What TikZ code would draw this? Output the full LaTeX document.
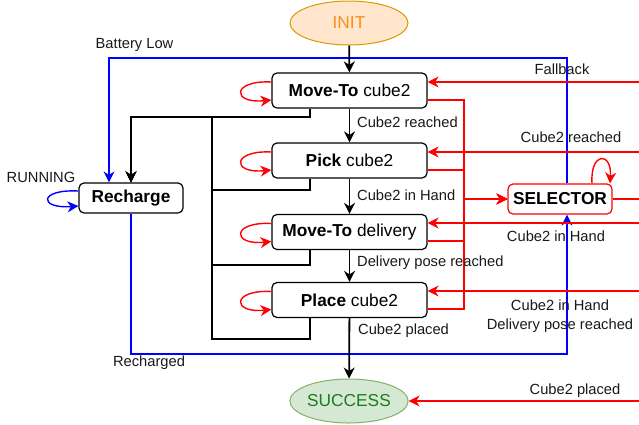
\documentclass[tikz,border=0pt]{standalone}
\usepackage{fontspec}
\setmainfont{Liberation Sans}
\usetikzlibrary{arrows.meta,shapes.geometric,calc}
\definecolor{initfill}{HTML}{FFE6CC}
\definecolor{initdraw}{HTML}{D79B00}
\definecolor{inittext}{HTML}{FF8C1A}
\definecolor{succfill}{HTML}{D5E8D4}
\definecolor{succdraw}{HTML}{82B366}
\definecolor{succtext}{HTML}{1E7B1E}
\definecolor{myred}{HTML}{FF0000}
\definecolor{myblue}{HTML}{0000FF}
\newcommand{\nodefont}{\fontsize{17.3}{20}\selectfont}
\newcommand{\labfont}{\fontsize{14.7}{19}\selectfont}
\begin{document}
\begin{tikzpicture}[x=1pt,y=-1pt,
  >={Stealth[length=11pt,width=11pt,inset=3.5pt]},
  task/.style={draw, rounded corners=5pt, line width=1.2pt, minimum width=155pt, minimum height=35pt, inner sep=0pt, font=\nodefont},
  smallbox/.style={draw, rounded corners=5pt, line width=1.2pt, minimum width=104pt, minimum height=30pt, inner sep=0pt, font=\nodefont\bfseries},
  term/.style={ellipse, draw, line width=1pt, minimum width=118pt, minimum height=44pt, inner sep=0pt, font=\nodefont},
  lab/.style={font=\labfont, inner sep=0pt, text=black!90},
  mainarrow/.style={draw=black, line width=1.8pt, ->},
  blk/.style={draw=black, line width=1.4pt, ->},
  rl/.style={draw=myred, line width=1.4pt, ->},
  bl/.style={draw=myblue, line width=1.4pt, ->},
]
\useasboundingbox (0,0) rectangle (639,424);
\clip (0,0) rectangle (639,424);
\fill[white] (0,0) rectangle (639,424);

% nodes
\node[term, fill=initfill, draw=initdraw, text=inittext] (init) at (349,23) {INIT};
\node[term, fill=succfill, draw=succdraw, text=succtext] (success) at (349,401) {SUCCESS};
\node[task] (mv1) at (349.5,90.5) {\textbf{Move-To} cube2};
\node[task] (pick) at (349.5,160.5) {\textbf{Pick} cube2};
\node[task] (mv2) at (349.5,232) {\textbf{Move-To} delivery};
\node[task] (place) at (349.5,300) {\textbf{Place} cube2};
\node[smallbox] (rech) at (131,198) {Recharge};
\node[smallbox, draw=myred] (sel) at (560,199) {SELECTOR};

\coordinate (rb) at (131,117);
\coordinate (jn) at (464,199);
\coordinate (far) at (655,199);

% black connectors to Recharge
\draw[blk] ([xshift=-39.5pt]mv2.south) |- (212,265) |- (rb) -- (rech.north);
\draw[blk] ([xshift=-39.5pt]place.south) |- (212,339) |- (rb) -- (rech.north);
\draw[blk] ([xshift=-39.5pt]pick.south) |- (212,190) |- (rb) -- (rech.north);
\draw[blk, line width=1.8pt] ([xshift=-39.5pt]mv1.south) |- (rb) -- (rech.north);

% blue connectors
\draw[bl] ([xshift=7pt]sel.north) |- (109,58) -- ([xshift=-22pt]rech.north);
\draw[bl] (rech.south) |- (567,354) -- ([xshift=7pt]sel.south);
\draw[bl] ([yshift=7pt]rech.west) .. controls +(-40,-2) and +(-40,3) .. ([yshift=-8pt]rech.west);

% main flow
\draw[mainarrow] (init) -- (mv1);
\draw[mainarrow] (mv1) -- (pick);
\draw[mainarrow] (pick) -- (mv2);
\draw[mainarrow] (mv2) -- (place);
\draw[mainarrow] (place) -- (success);

% red: boxes to selector
\draw[rl] ([yshift=-9.5pt]mv1.east) -| (jn) -- (sel.west);
\draw[rl] ([yshift=-9.5pt]pick.east) -| (jn) -- (sel.west);
\draw[rl] ([yshift=-9pt]mv2.east) -| (jn) -- (sel.west);
\draw[rl] ([yshift=-9pt]place.east) -| (jn) -- (sel.west);

% red: selector to boxes
\draw[rl] (sel.east) -- (far) |- ([yshift=8.5pt]mv1.east);
\draw[rl] (sel.east) -- (far) |- ([yshift=8.5pt]pick.east);
\draw[rl] (sel.east) -- (far) |- ([yshift=9pt]mv2.east);
\draw[rl] (sel.east) -- (far) |- ([yshift=9pt]place.east);
\draw[rl] (sel.east) -- (far) |- (success.east);

% red self loops
\foreach \n in {mv1,pick,mv2,place}{
  \draw[rl] ([yshift=8.5pt]\n.west) .. controls +(-40,-2) and +(-40,4) .. ([yshift=-9.5pt]\n.west);
}
\draw[rl] ([xshift=32pt]sel.north) .. controls +(-2,-32) and +(2,-32) .. ([xshift=50pt]sel.north);

% labels
\node[lab] (lbat) at (134.5,45) {Battery Low};
\node[lab] (lrun) at (41,177) {RUNNING};
\node[lab] (lrech) at (149,363) {Recharged};
\node[lab, anchor=west] (l1) at (357,122) {Cube2 reached};
\node[lab, anchor=west] (l2) at (357,195) {Cube2 in Hand};
\node[lab, anchor=west] (l3) at (357,263) {Delivery pose reached};
\node[lab, anchor=west] (l4) at (358,330.5) {Cube2 placed};
\node[lab] (lfb) at (562,69) {Fallback};
\node[lab] (lr1) at (571,137.5) {Cube2 reached};
\node[lab] (lr2) at (556,236) {Cube2 in Hand};
\node[lab, align=center] (lr3) at (560,316.5) {Cube2 in Hand\\Delivery pose reached};
\node[lab] (lr4) at (575,391) {Cube2 placed};
\end{tikzpicture}
\end{document}
